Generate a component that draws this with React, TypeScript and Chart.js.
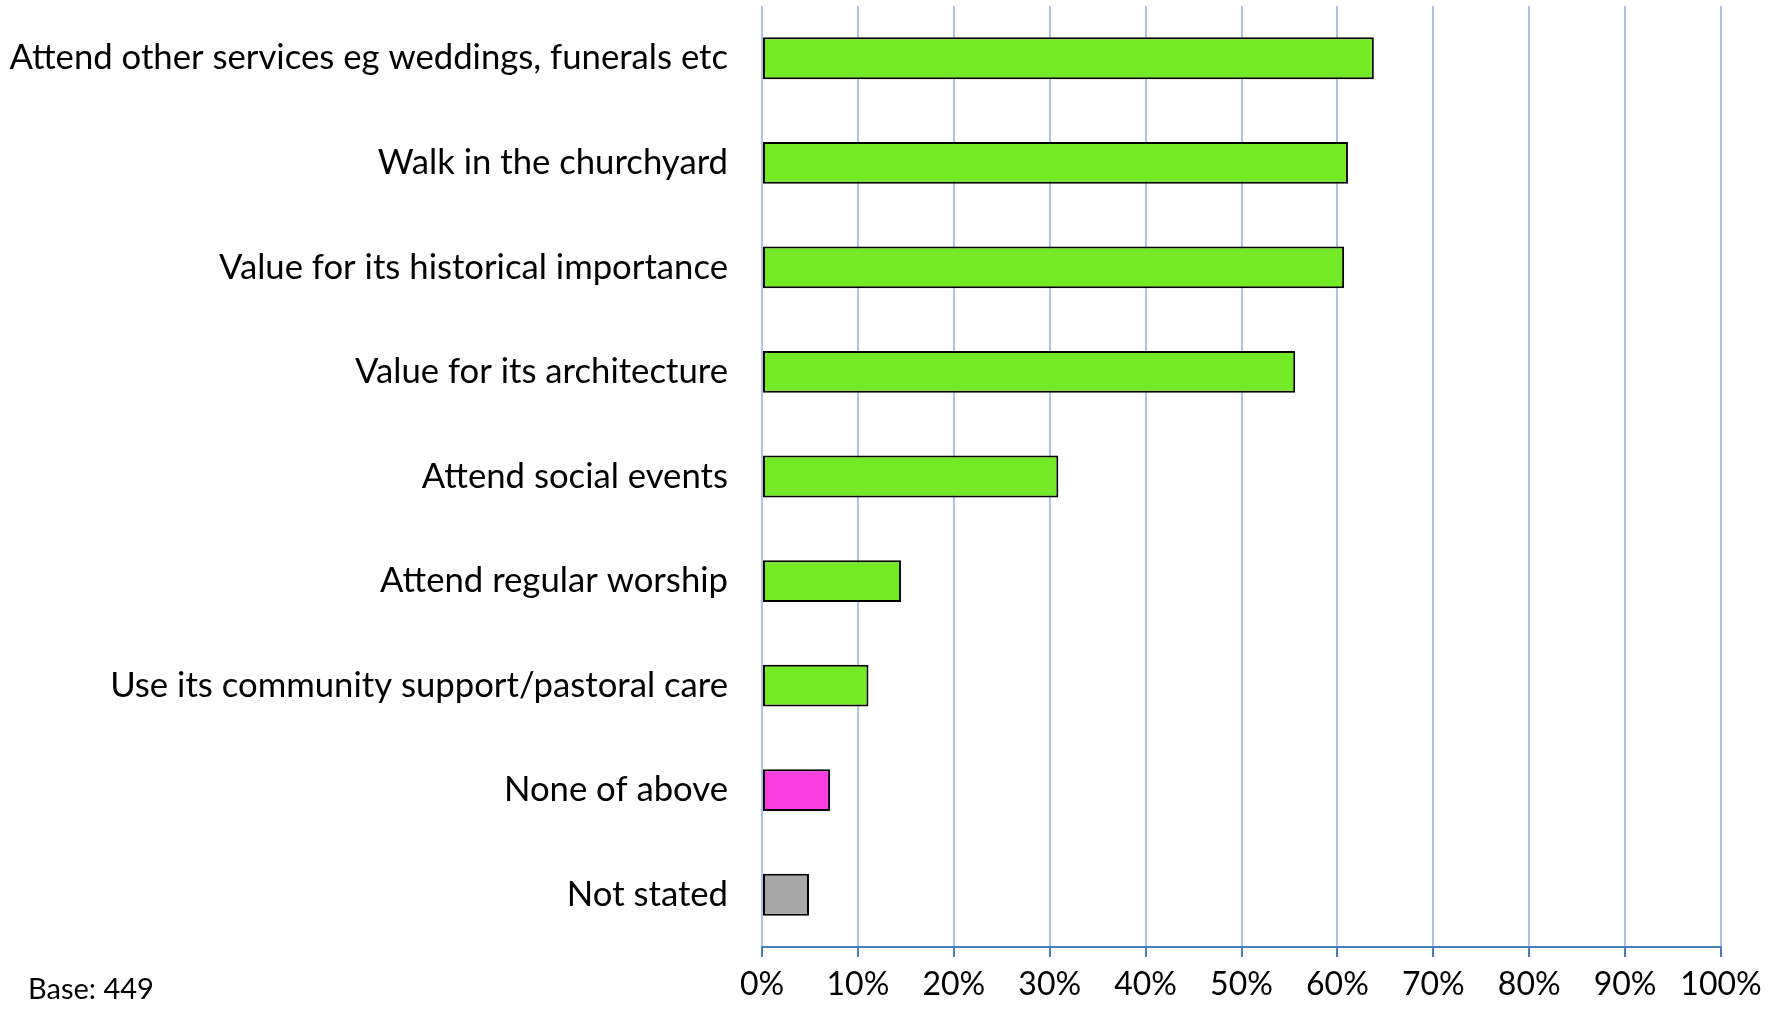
import React, { useEffect, useRef } from "react";
import { Chart, registerables } from "chart.js";

Chart.register(...registerables);

const categories: string[] = [
  "Attend other services eg weddings, funerals etc",
  "Walk in the churchyard",
  "Value for its historical importance",
  "Value for its architecture",
  "Attend social events",
  "Attend regular worship",
  "Use its community support/pastoral care",
  "None of above",
  "Not stated",
];
const values: number[] = [63.8, 61.1, 60.7, 55.6, 30.9, 14.5, 11.1, 7.1, 4.9];
const barColors: string[] = [
  "#73EA26", "#73EA26", "#73EA26", "#73EA26", "#73EA26", "#73EA26", "#73EA26",
  "#F93FE0", "#A6A6A6",
];
const xTicks: number[] = [0, 10, 20, 30, 40, 50, 60, 70, 80, 90, 100];
const baseNote = "Base: 449";

const FONT = "Lato, 'Open Sans', sans-serif";

export default function App() {
  const ref = useRef<HTMLCanvasElement | null>(null);
  useEffect(() => {
    document.body.style.margin = "0";
    const ctx = ref.current!;
    const chart = new Chart(ctx, {
      type: "bar",
      data: {
        labels: categories,
        datasets: [
          {
            data: values,
            backgroundColor: barColors,
            borderColor: "#000000",
            borderWidth: 2,
            borderSkipped: false,
            categoryPercentage: 1,
            barPercentage: 0.4,
          },
        ],
      },
      options: {
        indexAxis: "y",
        animation: false,
        responsive: false,
        maintainAspectRatio: false,
        layout: { autoPadding: false, padding: { top: 6, right: 64, left: 0, bottom: 0 } },
        plugins: { legend: { display: false }, tooltip: { enabled: false } },
        scales: {
          x: {
            min: 0,
            max: 100,
            afterBuildTicks: (s: any) => {
              s.ticks = xTicks.map((v) => ({ value: v }));
            },
            afterFit: (s: any) => {
              s.height = 1014 - 947;
              s.paddingLeft = 0;
              s.paddingRight = 0;
            },
            ticks: {
              callback: (v: any) => v + "%",
              color: "#000000",
              font: { family: FONT, size: 32 },
              padding: 8,
              maxRotation: 0,
              autoSkip: false,
            },
            grid: {
              color: "#ABC3EA",
              lineWidth: 2,
              tickColor: "#4A7EBB",
              tickLength: 10,
              drawTicks: true,
            },
            border: { display: true, color: "#4A7EBB", width: 2 },
          },
          y: {
            afterFit: (s: any) => {
              s.width = 762;
              s.paddingTop = 0;
              s.paddingBottom = 0;
            },
            ticks: {
              color: "#000000",
              font: { family: FONT, size: 34.7 },
              padding: 34,
              autoSkip: false,
            },
            grid: { display: false, drawTicks: false },
            border: { display: false },
          },
        },
      },
    });
    return () => chart.destroy();
  }, []);
  return (
    <div style={{ position: "fixed", left: 0, top: 0, width: 1785, height: 1014, background: "#fff" }}>
      <canvas ref={ref} width={1785} height={1014} style={{ display: "block" }} />
      <div
        style={{
          position: "absolute",
          left: 28,
          top: 970,
          fontFamily: FONT,
          fontSize: 29,
          color: "#000",
        }}
      >
        {baseNote}
      </div>
    </div>
  );
}
